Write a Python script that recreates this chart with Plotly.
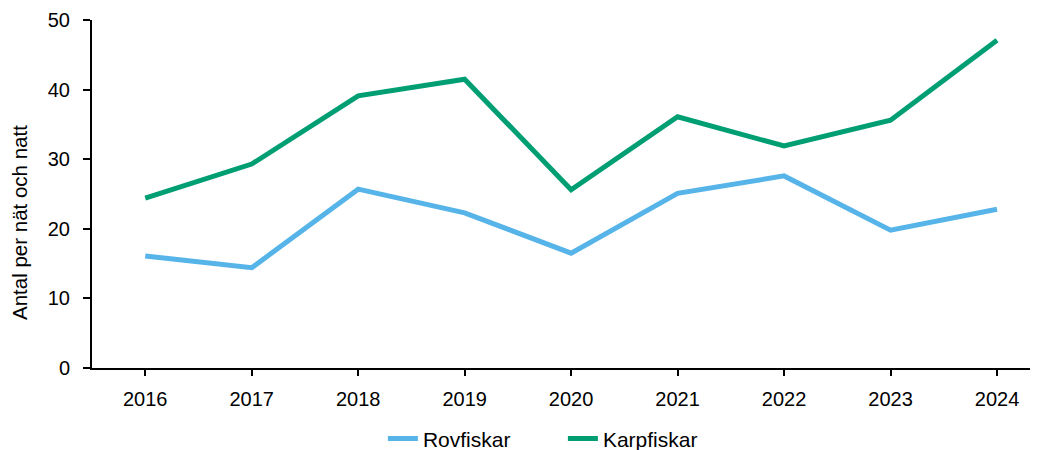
import plotly.graph_objects as go

years = ["2016", "2017", "2018", "2019", "2020", "2021", "2022", "2023", "2024"]
rovfiskar = [16.1, 14.4, 25.7, 22.3, 16.5, 25.1, 27.6, 19.8, 22.8]
karpfiskar = [24.4, 29.3, 39.1, 41.5, 25.6, 36.1, 31.9, 35.6, 47.1]
y_ticks = [0, 10, 20, 30, 40, 50]

xi = list(range(len(years)))
font = "Liberation Sans, Arial, sans-serif"

fig = go.Figure()
fig.add_trace(go.Scatter(x=xi, y=rovfiskar, mode="lines", name="Rovfiskar",
                         line=dict(color="#56B4E9", width=5)))
fig.add_trace(go.Scatter(x=xi, y=karpfiskar, mode="lines", name="Karpfiskar",
                         line=dict(color="#009E73", width=5)))

# page body has an 8px margin; compensate so the plot area sits at x 92..1038, y 20..368
fig.update_layout(
    width=1030, height=442,
    margin=dict(l=84, r=0, t=12, b=82),
    plot_bgcolor="white", paper_bgcolor="white",
    font=dict(family=font, size=20, color="black"),
    showlegend=True,
    legend=dict(orientation="h", x=0.3075, xanchor="left", xref="paper",
                y=0.025, yanchor="middle", yref="container",
                font=dict(size=21), entrywidth=135, entrywidthmode="pixels",
                traceorder="normal"),
    xaxis=dict(range=[-0.5, 8.385], tickvals=xi, ticktext=years,
               showgrid=False, zeroline=False, showline=True, linecolor="black", linewidth=2,
               ticks="outside", ticklen=6, tickwidth=1.5, tickcolor="black",
               ticklabelstandoff=6),
    yaxis=dict(range=[0, 50], tickvals=y_ticks, showgrid=False, zeroline=False,
               showline=True, linecolor="black", linewidth=2,
               ticks="outside", ticklen=7, tickwidth=1.5, tickcolor="black",
               ticklabelstandoff=9),
    annotations=[dict(text="Antal per nät och natt", textangle=-90, showarrow=False,
                      xref="paper", yref="paper", x=-0.0772, y=0.4195,
                      xanchor="center", yanchor="middle", font=dict(size=20.5))],
)

fig.write_html("out.html")
